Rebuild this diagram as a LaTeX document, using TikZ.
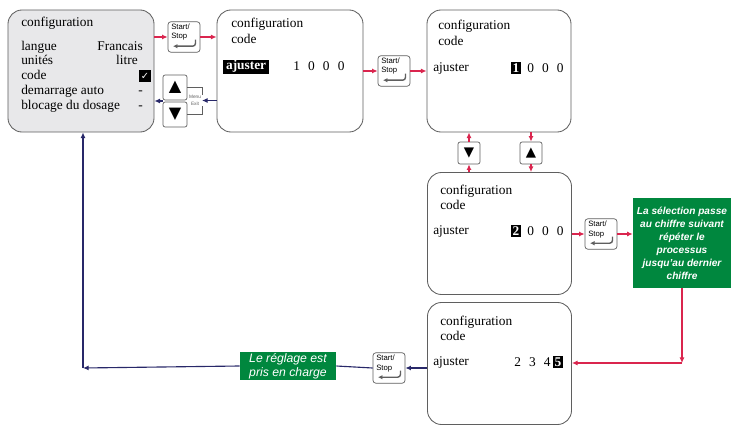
\documentclass[tikz,border=0pt]{standalone}
\usepackage{fontspec}
\setmainfont{Liberation Serif}
\setsansfont{Liberation Sans}
\newfontfamily\glyphfont{DejaVu Sans}
\usetikzlibrary{positioning,arrows.meta,calc}
\definecolor{boxgray}{RGB}{95,95,95}
\definecolor{screenfill}{RGB}{232,232,234}
\definecolor{flowred}{RGB}{218,37,78}
\definecolor{flownavy}{RGB}{40,40,105}
\definecolor{notegreen}{RGB}{0,135,62}
\newcommand{\digsep}{\hspace{5.8pt}}
\tikzset{
  redarrow/.style={-{Latex[length=4pt,width=3.6pt]}, draw=flowred, line width=0.8pt},
  navyarrow/.style={-{Latex[length=4pt,width=3.6pt]}, draw=flownavy, line width=0.8pt},
  navyline/.style={draw=flownavy, line width=0.8pt},
  screen/.style={draw=boxgray, rounded corners=10pt, fill=white, line width=0.6pt, minimum width=3.6cm, minimum height=3.05cm},
  mainscreen/.style={screen, fill=screenfill, minimum width=3.65cm},
  lcdtext/.style={anchor=base west, inner sep=0pt},
  lcdval/.style={anchor=base east, inner sep=0pt},
  hlword/.style={anchor=base west, fill=black, text=white, font=\bfseries\fontsize{9.5}{10.5}\selectfont, inner xsep=2pt, inner ysep=0.7pt},
  hldigit/.style={anchor=base west, fill=black, text=white, font=\bfseries\fontsize{9.5}{10.5}\selectfont, inner sep=1pt},
  tickbox/.style={fill=black, text=white, font=\glyphfont\fontsize{7}{7}\selectfont, inner sep=0pt, minimum width=0.28cm, minimum height=0.28cm},
  keylab/.style={anchor=north west, align=left, inner sep=0pt, xshift=2.4pt, yshift=-1.6pt, font=\sffamily\fontsize{5.5}{6.7}\selectfont},
  keybtn/.style={draw=boxgray, rounded corners=2pt, fill=white, line width=0.5pt, minimum width=0.8cm, minimum height=0.76cm,
    label={[keylab]north west:{Start/\\Stop}},
    path picture={\draw[line width=1pt, -{Latex[length=3.2pt,width=3.2pt]}]
      ($(path picture bounding box.south east)+(-4.5,-12.5)$) -- ++(0,6.5) -- ($(path picture bounding box.south west)+(5,-6)$);}},
  navbtn/.style={draw=boxgray, rounded corners=1.5pt, fill=white, line width=0.5pt, inner sep=0pt, minimum width=0.6cm, minimum height=0.625cm, font=\glyphfont\fontsize{11.5}{11.5}\selectfont},
  smallnav/.style={navbtn, minimum width=0.55cm, minimum height=0.55cm, font=\glyphfont\fontsize{9.5}{9.5}\selectfont},
  menutag/.style={align=center, inner sep=0.5pt, text=boxgray, font=\sffamily\fontsize{3.4}{4.6}\selectfont},
  passnote/.style={fill=notegreen, text=white, align=center, inner sep=0pt, minimum width=2.45cm, minimum height=2.225cm, font=\sffamily\bfseries\itshape\fontsize{7.2}{9.2}\selectfont},
  donenote/.style={fill=notegreen, text=white, align=center, inner sep=0pt, minimum width=2.4cm, minimum height=0.7cm, font=\sffamily\itshape\fontsize{8.7}{10}\selectfont}
}
\begin{document}
\begin{tikzpicture}[x=0.025cm, y=-0.025cm, >=Latex, every node/.style={font=\fontsize{9.5}{10.5}\selectfont}]
  \useasboundingbox (0,0) rectangle (731,426);
  \node[mainscreen] (menu) at (81,71) {};
  \node[screen, minimum width=3.65cm] (adj0) at (290,71) {};
  \node[screen] (adj1) at (499,71) {};
  \node[screen] (adj2) at (499.5,233.5) {};
  \node[screen] (adj5) at (499.5,363.5) {};

  \node[lcdtext] (mtitle) at (21,27) {configuration};
  \node[lcdtext] (mlang) at (21,51) {langue};
  \node[lcdtext] (munit) at (21,65) {unités};
  \node[lcdtext] (mcode) at (21,80) {code};
  \node[lcdtext] (mstart) at (21,95) {demarrage auto};
  \node[lcdtext] (mlock) at (21,110) {blocage du dosage};
  \node[lcdval] (vlang) at (143,51) {Francais};
  \node[lcdval] (vunit) at (138,65) {litre};
  \node[tickbox] (vcode) at (145,76) {✓};
  \node[lcdval] (vstart) at (143,95) {-};
  \node[lcdval] (vlock) at (143,110) {-};

  \node[lcdtext] (a0title) at (231,28) {configuration};
  \node[lcdtext] (a0code) at (231,44) {code};
  \node[hlword] (a0adj) at (223,70) {ajuster};
  \node[lcdtext] (a0val) at (293,70.5) {1\digsep 0\digsep 0\digsep 0};

  \node[lcdtext] (a1title) at (438,30) {configuration};
  \node[lcdtext] (a1code) at (438,46) {code};
  \node[lcdtext] (a1adj) at (433,71.5) {ajuster};
  \node[hldigit] (a1sel) at (511,72.5) {1};
  \node[lcdtext] (a1val) at (527,72.5) {0\digsep 0\digsep 0};

  \node[lcdtext] (a2title) at (440,195) {configuration};
  \node[lcdtext] (a2code) at (440,210) {code};
  \node[lcdtext] (a2adj) at (433,234.5) {ajuster};
  \node[hldigit] (a2sel) at (511,235.5) {2};
  \node[lcdtext] (a2val) at (527,235.5) {0\digsep 0\digsep 0};

  \node[lcdtext] (a5title) at (440,325) {configuration};
  \node[lcdtext] (a5code) at (440,340) {code};
  \node[lcdtext] (a5adj) at (433,365.5) {ajuster};
  \node[lcdtext] (a5val) at (514,366) {2\digsep 3\digsep 4};
  \node[hldigit] (a5sel) at (553,366) {5};

  \node[keybtn] (ss1) at (184,37) {};
  \node[keybtn] (ss2) at (394,71) {};
  \node[keybtn] (ss3) at (601,234) {};
  \node[keybtn] (ss4) at (389,368) {};
  \node[navbtn] (up1) at (175,87.5) {▲};
  \node[navbtn] (down1) at (175,114.5) {▼};
  \node[menutag] (menuexit) at (195,100.5) {Menu\\Exit};
  \node[smallnav] (dn2) at (469,153) {▼};
  \node[smallnav] (up2) at (531,153) {▲};

  \node[passnote] (passnote) at (682,243) {La sélection passe\\au chiffre suivant\\répéter le\\processus\\jusqu'au dernier\\chiffre};
  \node[donenote] (donenote) at (288,366) {Le réglage est\\pris en charge};
  \coordinate (redturn) at (682,363);
  \coordinate (navyturn) at (83,368);
  \coordinate (navmid) at ($(up1.south west)!0.5!(down1.north west)$);

  \draw[redarrow] (menu.east |- ss1) -- (ss1.west);
  \draw[redarrow] (ss1.east) -- (adj0.west |- ss1);
  \draw[redarrow] (adj0.east |- ss2) -- (ss2.west);
  \draw[redarrow] (ss2.east) -- (adj1.west |- ss2);
  \draw[redarrow] (dn2.north) -- (dn2 |- adj1.south);
  \draw[redarrow] (dn2 |- adj2.north) -- (dn2.south);
  \draw[redarrow] (up2 |- adj1.south) -- (up2.north);
  \draw[redarrow] (up2.south) -- (up2 |- adj2.north);
  \draw[redarrow] (adj2.east |- ss3) -- (ss3.west);
  \draw[redarrow] (ss3.east) -- (passnote.west |- ss3);
  \draw[redarrow] (passnote.south -| redturn) -- (redturn);
  \draw[redarrow] (redturn) -- (adj5.east |- redturn);

  \draw[boxgray, line width=0.4pt] (up1.east) -| (menuexit.north east);
  \draw[boxgray, line width=0.4pt] (down1.east) -| (menuexit.south east);
  \draw[navyarrow] (adj0.west |- menuexit) -- (menuexit.east);
  \draw[navyarrow] (navmid) -- (menu.east |- navmid);
  \draw[navyarrow] (adj5.west |- ss4) -- (ss4.east);
  \draw[navyline] (ss4.west) -- (donenote.east);
  \draw[navyarrow] (donenote.west) -- (navyturn);
  \draw[navyarrow] (navyturn) -- (navyturn |- menu.south);
\end{tikzpicture}
\end{document}
